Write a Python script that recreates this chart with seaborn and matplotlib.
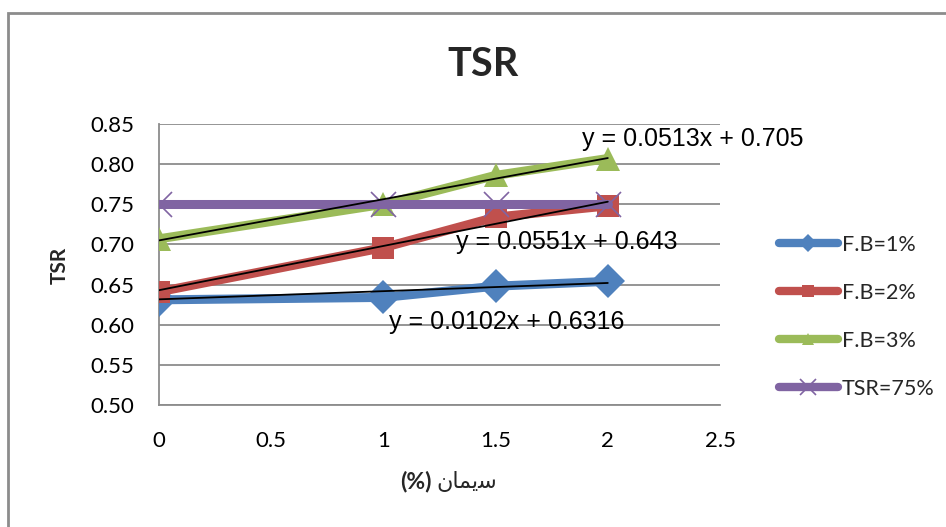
import matplotlib
matplotlib.use("Agg")
import matplotlib.pyplot as plt
import seaborn as sns
import pandas as pd
import numpy as np
from matplotlib.lines import Line2D
from matplotlib.patches import Rectangle

# ---- data ----
cement = [0, 1, 1.5, 2]
fb1 = [0.631, 0.634, 0.648, 0.654]
fb2 = [0.641, 0.696, 0.734, 0.748]
fb3 = [0.707, 0.750, 0.786, 0.807]
tsr75 = [0.75, 0.75, 0.75, 0.75]
series_names = ["F.B=1%", "F.B=2%", "F.B=3%", "TSR=75%"]
colors = ["#4F81BD", "#C0504D", "#9BBB59", "#8064A2"]
markers = ["D", "s", "^", "x"]

trend_slopes = [0.0102, 0.0551, 0.0513]
trend_intercepts = [0.6316, 0.643, 0.705]
trend_labels = ["y = 0.0102x + 0.6316", "y = 0.0551x + 0.643", "y = 0.0513x + 0.705"]
trend_label_pos = [(1.026, 0.604), (1.323, 0.7025), (1.883, 0.831)]

xticks = [0, 0.5, 1, 1.5, 2, 2.5]
xtick_labels = ["0", "0.5", "1", "1.5", "2", "2.5"]
yticks = [0.50, 0.55, 0.60, 0.65, 0.70, 0.75, 0.80, 0.85]
ytick_labels = ["0.50", "0.55", "0.60", "0.65", "0.70", "0.75", "0.80", "0.85"]

title = "TSR"
ylabel = "TSR"
# Persian "سیمان (%)" in visual order with presentation forms (no text shaping in matplotlib)
xlabel_pct = "(%)"
xlabel_word = "\uFEE5\uFE8E\uFEE4\uFBFE\uFEB3"

sns.set_theme(style="white")
plt.rcParams['font.family'] = ['Lato', 'DejaVu Sans']

W, H = 946, 527
fig = plt.figure(figsize=(W / 100, H / 100), dpi=100)
ax = fig.add_axes([159 / W, 1 - 405 / H, (720 - 159) / W, (405 - 124) / H])

df = pd.DataFrame({
    "x": cement * 4,
    "y": fb1 + fb2 + fb3 + tsr75,
    "series": [n for n in series_names for _ in cement],
})

for i, name in enumerate(series_names):
    sub = df[df["series"] == name]
    mk = markers[i]
    ms = {"D": 17, "s": 16.5, "^": 17, "x": 18}[mk]
    mew = 0 if mk != "x" else 1.2
    sns.lineplot(data=sub, x="x", y="y", ax=ax, color=colors[i], lw=6.5,
                 marker=mk, markersize=ms, markeredgewidth=mew,
                 markeredgecolor=colors[i], legend=False, zorder=3 + i * 0.1,
                 solid_capstyle="round")

# trendlines
xt = np.array([min(cement), max(cement)])
for s, b in zip(trend_slopes, trend_intercepts):
    ax.plot(xt, s * xt + b, color="black", lw=1.3, zorder=5)

for lab, (px, py) in zip(trend_labels, trend_label_pos):
    ax.text(px, py, lab, fontsize=18, family=["Liberation Sans", "DejaVu Sans"],
            va="center", ha="left", color="black", zorder=6, clip_on=False)

ax.set_xlim(0, 2.5)
ax.set_ylim(0.5, 0.85)
ax.set_xticks(xticks)
ax.set_xticklabels(xtick_labels)
ax.set_yticks(yticks)
ax.set_yticklabels(ytick_labels)
ax.tick_params(axis="both", length=0, labelsize=16, colors="black")
ax.tick_params(axis="y", pad=18)
ax.tick_params(axis="x", pad=19)
ax.set_xlabel("")
ax.set_ylabel("")
ax.grid(axis="y", color="#8c8c8c", lw=1.3)
ax.grid(axis="x", visible=False)
for side in ["top", "right"]:
    ax.spines[side].set_visible(False)
for side in ["left", "bottom"]:
    ax.spines[side].set_color("#8c8c8c")
    ax.spines[side].set_linewidth(1.3)

# legend
handles = []
for i, name in enumerate(series_names):
    mk = markers[i]
    handles.append(Line2D([0], [0], color=colors[i], lw=6, marker=mk,
                          markersize=9 if mk != "x" else 11,
                          markeredgewidth=0 if mk != "x" else 1.2,
                          markeredgecolor=colors[i], solid_capstyle="round", label=name))
fig.legend(handles=handles, loc="upper left", bbox_to_anchor=(770 / W, 1 - 226 / H),
           frameon=False, fontsize=15.5, handlelength=2.75, handletextpad=0.2,
           labelspacing=1.3, borderaxespad=0)

# titles
fig.text(483 / W, 1 - 65 / H, title, fontsize=28.5, fontweight="bold", ha="center", va="center")
fig.text(60 / W, 1 - 265 / H, ylabel, fontsize=15, fontweight="bold", rotation=90,
         ha="center", va="center")
fig.text(432 / W, 1 - 481 / H, xlabel_pct, fontsize=16.5, fontweight="bold", ha="right", va="center")
fig.text(436 / W, 1 - 481 / H, xlabel_word, fontsize=16, family=["DejaVu Sans"],
         ha="left", va="center")

# chart border
fig.patches.append(Rectangle((8 / W, -0.2), 1.2, 1.2 - 13 / H, transform=fig.transFigure,
                             fill=False, edgecolor="#8c8c8c", lw=2, clip_on=False))

fig.savefig("out.png", dpi=100, facecolor="white")
